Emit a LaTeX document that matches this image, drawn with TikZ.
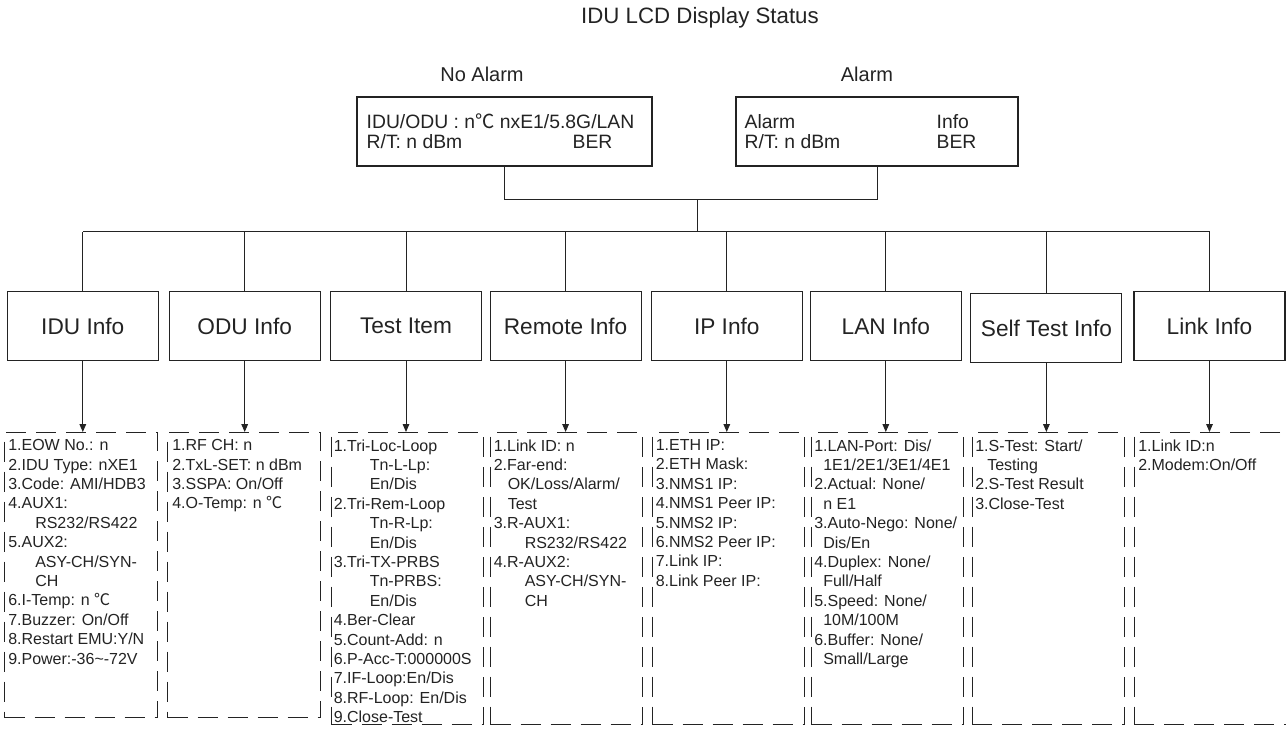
\documentclass[tikz,border=0pt]{standalone}
\usepackage{fontspec}
\setmainfont{Liberation Sans}
\newfontfamily\cjk{Noto Sans CJK SC}
\usepackage{tikz}
\usetikzlibrary{arrows.meta,positioning}
\definecolor{ink}{RGB}{35,35,35}
\newcommand\ind[1]{\hspace*{\dimexpr#1pt*3/4\relax}}
\newcommand\degC{{\cjk ℃}}

\begin{document}
\begin{tikzpicture}[x=0.75pt,y=-0.75pt,>={Stealth[length=6pt,width=5pt,inset=0pt]},
  every node/.style={text=ink},
  lbl/.style={anchor=base,font=\fontsize{15}{18}\selectfont},
  lcd/.style={anchor=base west,inner sep=0pt,font=\fontsize{14.5}{17}\selectfont},
  topbox/.style={draw=ink,line width=0.85pt,minimum width=#1,minimum height=51.75pt,inner sep=0pt},
  infobox/.style={draw=ink,line width=0.85pt,minimum width=113.25pt,minimum height=51.75pt,inner sep=0pt,font=\fontsize{17}{20}\selectfont},
  listbox/.style={draw=ink,line width=0.85pt,dash pattern=on 15pt off 7.5pt,minimum width=114pt,anchor=north west,inner sep=0pt},
  listtext/.style={anchor=north west,align=left,inner sep=0pt,font=\fontsize{12}{14.55}\selectfont},
  wire/.style={draw=ink,line width=0.7pt}]
\useasboundingbox (0,0) rectangle (1286,729);

\node[lbl,font=\fontsize{16.7}{20}\selectfont] (title) at (700,23.5) {IDU LCD Display Status};
\node[lbl] (lblno) at (482,81.7) {No Alarm};
\node[lbl] (lblal) at (867,81) {Alarm};

\node[topbox=221.25pt] (noalarm) at (504.5,131.5) {};
\node[topbox=211.5pt] (alarm) at (877,131.5) {};
\node[lcd] (na1) at ([shift={(10,32)}]noalarm.north west) {IDU/ODU : n\degC{} nxE1/5.8G/LAN};
\node[lcd] (na2) at ([shift={(10,52)}]noalarm.north west) {R/T: n dBm};
\node[lcd] (na3) at ([shift={(216,52)}]noalarm.north west) {BER};
\node[lcd] (al1) at ([shift={(9,32)}]alarm.north west) {Alarm};
\node[lcd] (al2) at ([shift={(9,52)}]alarm.north west) {R/T: n dBm};
\node[lcd] (al3) at ([shift={(201,32)}]alarm.north west) {Info};
\node[lcd] (al4) at ([shift={(201,52)}]alarm.north west) {BER};

\coordinate (jn) at (697,199.3);
\coordinate (hub) at (697,231.7);
\draw[wire] (noalarm.south) |- (jn) -| (alarm.south);
\draw[wire] (jn) -- (hub);

\node[infobox] (idu) at (82.8,326.2) {IDU Info};
\node[infobox] (odu) at (244.7,326.2) {ODU Info};
\node[infobox] (test) at (406,326.2) {Test Item};
\node[infobox] (remote) at (565.6,326.2) {Remote Info};
\node[infobox] (ip) at (726.8,326.2) {IP Info};
\node[infobox] (lan) at (885.8,326.2) {LAN Info};
\node[infobox] (self) at (1046.4,328) {Self Test Info};
\node[infobox] (link) at (1209.5,326.2) {Link Info};

\node[listbox,minimum width=114.75pt,minimum height=213.75pt] (idu-list) at (4,432) {};
\node[listbox,minimum width=114.75pt,minimum height=213.75pt] (odu-list) at (167,432) {};
\node[listbox,minimum height=219pt] (test-list) at (331,432) {};
\node[listbox,minimum height=219pt] (remote-list) at (490,432) {};
\node[listbox,minimum height=219pt] (ip-list) at (652,432) {};
\node[listbox,minimum height=219pt] (lan-list) at (811,432) {};
\node[listbox,minimum height=219pt] (self-list) at (971.5,432) {};
\node[listbox,minimum height=219pt] (link-list) at (1133.5,432) {};

\node[listtext] (idu-text) at ([shift={(4,7.2)}]idu-list.north west) {1.EOW No.: n\\2.IDU Type: nXE1\\3.Code: AMI/HDB3\\4.AUX1:\\\ind{27}RS232/RS422\\5.AUX2:\\\ind{27}ASY-CH/SYN-\\\ind{27}CH\\6.I-Temp: n \degC\\7.Buzzer: On/Off\\8.Restart EMU:Y/N\\9.Power:-36\textasciitilde-72V};
\node[listtext] (odu-text) at ([shift={(5,7.2)}]odu-list.north west) {1.RF CH: n\\2.TxL-SET: n dBm\\3.SSPA: On/Off\\4.O-Temp: n \degC};
\node[listtext] (test-text) at ([shift={(2.5,7.2)}]test-list.north west) {1.Tri-Loc-Loop\\\ind{36}Tn-L-Lp:\\\ind{36}En/Dis\\2.Tri-Rem-Loop\\\ind{36}Tn-R-Lp:\\\ind{36}En/Dis\\3.Tri-TX-PRBS\\\ind{36}Tn-PRBS:\\\ind{36}En/Dis\\4.Ber-Clear\\5.Count-Add: n\\6.P-Acc-T:000000S\\7.IF-Loop:En/Dis\\8.RF-Loop: En/Dis\\9.Close-Test};
\node[listtext] (remote-text) at ([shift={(3.5,7.2)}]remote-list.north west) {1.Link ID: n\\2.Far-end:\\\ind{14}OK/Loss/Alarm/\\\ind{14}Test\\3.R-AUX1:\\\ind{31}RS232/RS422\\4.R-AUX2:\\\ind{31}ASY-CH/SYN-\\\ind{31}CH};
\node[listtext] (ip-text) at ([shift={(3.5,7.2)}]ip-list.north west) {1.ETH IP:\\2.ETH Mask:\\3.NMS1 IP:\\4.NMS1 Peer IP:\\5.NMS2 IP:\\6.NMS2 Peer IP:\\7.Link IP:\\8.Link Peer IP:};
\node[listtext] (lan-text) at ([shift={(3,7.2)}]lan-list.north west) {1.LAN-Port: Dis/\\\ind{9}1E1/2E1/3E1/4E1\\2.Actual: None/\\\ind{9}n E1\\3.Auto-Nego: None/\\\ind{9}Dis/En\\4.Duplex: None/\\\ind{9}Full/Half\\5.Speed: None/\\\ind{9}10M/100M\\6.Buffer: None/\\\ind{9}Small/Large};
\node[listtext] (self-text) at ([shift={(3.5,7.2)}]self-list.north west) {1.S-Test: Start/\\\ind{12}Testing\\2.S-Test Result\\3.Close-Test};
\node[listtext] (link-text) at ([shift={(4.5,7.2)}]link-list.north west) {1.Link ID:n\\2.Modem:On/Off};

\draw[wire] (idu.north |- hub) -- (link.north |- hub);
\foreach \n in {idu,odu,test,remote,ip,lan,self,link}{
  \draw[wire] (\n.north) -- (\n.north |- hub);
  \draw[wire,->] (\n.south) -- (\n.south |- \n-list.north);
}
\end{tikzpicture}
\end{document}
